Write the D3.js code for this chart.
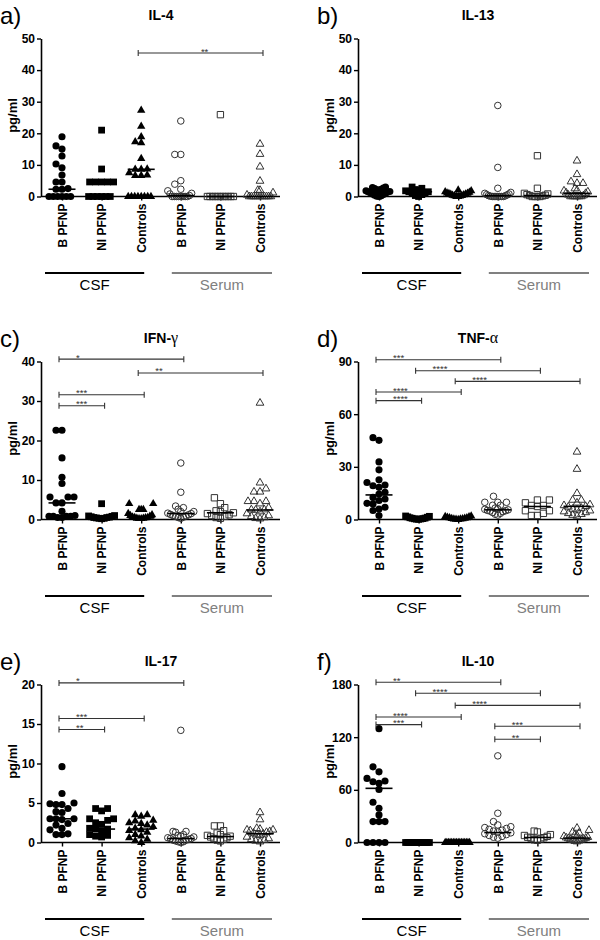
<!DOCTYPE html>
<html><head><meta charset="utf-8">
<script src="https://cdn.jsdelivr.net/npm/d3@7"></script>
<style>body{margin:0;background:#fff}svg{display:block}</style>
</head><body>
<svg id="chart" width="600" height="940"></svg>
<script>
// ---------- DATA ----------
const categories = ["B PFNP", "NI PFNP", "Controls", "B PFNP", "NI PFNP", "Controls"];
const groupNames = ["CSF", "Serum"];

const il4 = [
  [18.9, 16.0, 15.0, 12.8, 10.3, 9.1, 6.8, 4.6, 4.6, 2.5, 2.3, 2.3, 0, 0, 0, 0, 0, 0],
  [21.0, 8.7, 4.6, 4.6, 4.6, 4.6, 4.6, 0, 0, 0, 0, 0, 0],
  [27.3, 22.2, 18.9, 17.3, 17.0, 12.0, 8.7, 8.6, 8.6, 7.5, 6.8, 6.6, 6.6, 0, 0, 0, 0, 0, 0, 0, 0],
  [23.9, 13.3, 13.3, 5.0, 3.9, 2.3, 1.8, 1.0, 0.8, 0.3, 0, 0, 0, 0, 0, 0, 0, 0],
  [25.9, 0, 0, 0, 0, 0, 0, 0, 0, 0, 0, 0],
  [16.6, 13.4, 9.4, 4.9, 2.0, 2.0, 1.2, 0.5, 0, 0, 0, 0, 0, 0, 0, 0, 0, 0, 0]
];
const il4Median = [2.3, 4.6, 8.6, 0.3, 0, 0];
const il4Ticks = [0, 10, 20, 30, 40, 50];
const il4Sig = [[2, 5, 45.4, "**"]];

const il13 = [
  [3.0, 2.8, 2.7, 2.5, 2.3, 2.1, 2.0, 1.8, 1.6, 1.5, 1.4, 1.2, 1.0, 0.8, 0.6, 0.4, 0.2, 0.1, 0],
  [3.0, 2.6, 2.2, 2.0, 1.8, 1.5, 1.5, 1.2, 1.0, 0.6, 0.3, 0],
  [2.0, 1.8, 1.5, 1.3, 1.1, 1.0, 0.9, 0.8, 0.7, 0.5, 0.4, 0.3, 0.2, 0.1, 0, 0],
  [28.8, 9.2, 2.6, 1.3, 1.0, 0.8, 0.6, 0.5, 0.3, 0.2, 0.1, 0, 0, 0, 0, 0, 0, 0],
  [12.9, 2.6, 1.0, 0.8, 0.6, 0.4, 0.3, 0.2, 0, 0, 0, 0],
  [11.3, 7.0, 4.7, 4.2, 4.2, 2.5, 2.0, 1.8, 1.5, 1.2, 1.0, 0.5, 0.3, 0, 0, 0, 0, 0, 0]
];
const il13Median = [1.5, 1.5, 0.8, 0.3, 0.3, 1.0];
const il13Ticks = [0, 10, 20, 30, 40, 50];
const il13Sig = [];

const ifng = [
  [22.6, 22.6, 15.6, 10.7, 9.1, 5.7, 5.7, 5.7, 4.2, 4.2, 2.1, 1.0, 0.8, 0.8, 0.8, 0.8, 0.5, 0.5],
  [4.0, 1.0, 0.9, 0.8, 0.7, 0.6, 0.5, 0.5, 0.4, 0.3, 0.3, 0.2],
  [4.0, 4.0, 2.5, 2.5, 2.5, 1.5, 1.2, 1.0, 0.8, 0.6, 0.5, 0.5, 0.4, 0.3, 0.3, 0.2, 0.2],
  [14.3, 6.9, 3.4, 3.0, 2.6, 2.0, 2.0, 1.6, 1.5, 1.3, 1.2, 1.0, 0.9, 0.8, 0.6, 0.5, 0.3],
  [5.5, 4.0, 3.0, 2.2, 2.0, 1.7, 1.5, 1.2, 1.0, 0.8, 0.5, 0.3],
  [29.5, 9.3, 7.8, 7.0, 7.0, 4.6, 4.6, 4.6, 4.0, 3.0, 2.5, 2.5, 2.4, 2.0, 1.5, 1.0, 0.8, 0.5, 0.3, 0.2]
];
const ifngMedian = [4.2, 0.5, 0.5, 1.5, 1.7, 2.4];
const ifngTicks = [0, 10, 20, 30, 40];
const ifngSig = [[0, 3, 40.6, "*"], [2, 5, 37.1, "**"], [0, 2, 31.6, "***"], [0, 1, 28.8, "***"]];

const tnfa = [
  [46.6, 45.1, 32.8, 28.3, 22.6, 21.1, 19.6, 19.2, 18.3, 15.5, 14.5, 12.6, 11.7, 10.8, 9.2, 8.9, 7.0, 6.0, 5.1, 2.3],
  [2.0, 1.8, 1.5, 1.3, 1.0, 0.8, 0.7, 0.5, 0.4, 0.3, 0.2, 0.1],
  [2.0, 1.7, 1.5, 1.2, 1.0, 0.9, 0.7, 0.5, 0.4, 0.3, 0.2, 0.1, 0],
  [13.2, 9.8, 9.8, 9.8, 8.1, 8.1, 6.5, 6.0, 5.8, 5.5, 5.2, 5.0, 4.8, 4.5, 4.0, 3.5, 3.0, 2.5],
  [11.1, 11.1, 9.5, 8.0, 8.0, 7.4, 5.0, 5.0, 3.5, 2.3, 2.3],
  [38.5, 28.7, 14.9, 11.1, 11.1, 9.5, 8.5, 8.0, 7.5, 7.2, 6.5, 6.0, 5.5, 5.0, 4.5, 4.0, 3.5, 3.0, 2.5, 2.0]
];
const tnfaMedian = [14.0, 0.5, 0.5, 5.5, 7.4, 7.5];
const tnfaTicks = [0, 30, 60, 90];
const tnfaSig = [[0, 3, 91.0, "***"], [1, 4, 84.7, "****"], [2, 5, 78.7, "****"], [0, 2, 72.6, "****"], [0, 1, 67.7, "****"]];

const il17 = [
  [9.6, 6.2, 5.0, 4.9, 4.8, 4.8, 4.3, 3.9, 3.8, 3.0, 3.0, 3.0, 2.9, 2.4, 2.2, 1.8, 1.6, 1.1, 1.0, 1.0],
  [4.3, 4.3, 4.0, 3.0, 3.0, 2.8, 2.5, 2.3, 1.8, 1.7, 1.7, 1.5, 1.0, 0.9, 0.8, 0.7],
  [3.5, 3.5, 3.3, 2.8, 2.7, 2.5, 2.4, 2.2, 2.0, 1.8, 1.6, 1.5, 1.3, 1.0, 0.8, 0.6, 0.4, 0.2, 0.0],
  [14.2, 1.4, 1.4, 1.3, 1.0, 0.9, 0.8, 0.7, 0.6, 0.5, 0.5, 0.4, 0.3, 0.3, 0.2, 0.1, 0.1, 0],
  [2.1, 2.1, 1.5, 1.2, 1.0, 0.9, 0.8, 0.7, 0.6, 0.5, 0.4, 0.3, 0.2],
  [3.8, 2.9, 1.8, 1.7, 1.6, 1.6, 1.5, 1.4, 1.3, 1.2, 1.1, 1.0, 0.9, 0.7, 0.5, 0.4, 0.3, 0.2, 0.1]
];
const il17Median = [3.0, 1.7, 1.7, 0.5, 0.75, 1.1];
const il17Ticks = [0, 5, 10, 15, 20];
const il17Sig = [[0, 3, 20.2, "*"], [0, 2, 15.7, "***"], [0, 1, 14.3, "**"]];

const il10 = [
  [129.7, 86.2, 80.5, 73.0, 70.0, 69.2, 67.4, 60.5, 45.8, 39.0, 31.4, 23.8, 23.8, 23.8, 0, 0, 0, 0],
  [0, 0, 0, 0, 0, 0, 0, 0, 0, 0, 0, 0],
  [0, 0, 0, 0, 0, 0, 0, 0, 0, 0, 0, 0, 0, 0, 0, 0],
  [98.7, 33.3, 23.8, 20, 18, 17, 16, 15, 14, 13, 12, 11, 10, 9, 8, 7, 6, 5],
  [13, 12, 9, 8, 7, 6, 5.5, 5, 4, 3, 2.5],
  [16.5, 14, 12, 11, 9, 8, 7, 6, 5.5, 5, 4.5, 4, 3.5, 3, 2.5, 2, 1.5, 1]
];
const il10Median = [61.7, 0, 0, 11.3, 5.7, 5.0];
const il10Ticks = [0, 60, 120, 180];
const il10Sig = [[0, 3, 182.6, "**"], [1, 4, 170.1, "****"], [2, 5, 156.2, "****"], [0, 2, 142.9, "****"], [0, 1, 134.3, "***"], [3, 5, 132.4, "***"], [3, 4, 117.6, "**"]];

const panels = [
  {letter: "a)", title: ["IL-4"], data: il4, med: il4Median, ticks: il4Ticks, sig: il4Sig, centered: true},
  {letter: "b)", title: ["IL-13"], data: il13, med: il13Median, ticks: il13Ticks, sig: il13Sig},
  {letter: "c)", title: ["IFN-", "γ"], data: ifng, med: ifngMedian, ticks: ifngTicks, sig: ifngSig},
  {letter: "d)", title: ["TNF-", "α"], data: tnfa, med: tnfaMedian, ticks: tnfaTicks, sig: tnfaSig},
  {letter: "e)", title: ["IL-17"], data: il17, med: il17Median, ticks: il17Ticks, sig: il17Sig},
  {letter: "f)", title: ["IL-10"], data: il10, med: il10Median, ticks: il10Ticks, sig: il10Sig}
];

// ---------- LAYOUT ----------
const FONT = "Liberation Sans, Arial, sans-serif";
const PW = 317, PH = 323;
const Y0 = 196.5, Y1 = 38.5, AX = 41, XR = 280;
const STEP = 6, COL = 6, MAXH = 13;
const symTypes = [d3.symbolCircle, d3.symbolSquare, d3.symbolTriangle, d3.symbolCircle, d3.symbolSquare, d3.symbolTriangle];
const symSizesFilled = [40, 46, 30];
const symSizesOpen = [34, 40, 26];

const svg = d3.select("#chart");

function dodge(vals, y) {
  const pts = vals.map(v => ({v, py: y(v), off: 0})).sort((a, b) => a.v - b.v);
  const placed = [];
  for (const p of pts) {
    for (let k = 0; k < 200; k++) {
      const off = k === 0 ? 0 : (k % 2 ? -1 : 1) * Math.ceil(k / 2) * STEP;
      if (placed.every(q => (q.off - off) ** 2 + (q.py - p.py) ** 2 >= COL * COL - 0.01)) {
        p.off = off; placed.push(p); break;
      }
    }
  }
  for (const p of pts) {
    const rowMax = d3.max(pts.filter(q => Math.abs(q.py - p.py) < COL), q => Math.abs(q.off));
    p.x = rowMax > MAXH ? p.off * MAXH / rowMax : p.off;
  }
  return pts;
}

panels.forEach((p, i) => {
  const g = svg.append("g").attr("transform", `translate(${(i % 2) * PW},${Math.floor(i / 2) * PH})`);
  const y = d3.scaleLinear().domain([0, d3.max(p.ticks)]).range([Y0, Y1]);
  const x = d3.scalePoint().domain(d3.range(categories.length)).range([62, 260]);

  g.append("text").attr("x", 0).attr("y", 24).attr("font-family", FONT)
    .attr("font-size", 24).attr("fill", "#000").text(p.letter);
  const t = g.append("text").attr("x", 161).attr("y", 20).attr("text-anchor", "middle")
    .attr("font-family", FONT).attr("font-weight", "bold").attr("font-size", 14);
  t.append("tspan").text(p.title[0]);
  if (p.title[1]) t.append("tspan").attr("font-family", "Liberation Serif, serif")
    .attr("font-weight", "normal").attr("font-size", 16).text(p.title[1]);
  g.append("text").attr("transform", `translate(17,${(Y0 + Y1) / 2 - 2}) rotate(-90)`)
    .attr("text-anchor", "middle").attr("font-family", FONT).attr("font-weight", "bold")
    .attr("font-size", 13).text("pg/ml");

  const ya = g.append("g").attr("transform", `translate(${AX},0)`)
    .call(d3.axisLeft(y).tickValues(p.ticks).tickSize(4).tickSizeOuter(0).tickPadding(2));
  ya.select(".domain").attr("stroke", "#000").attr("stroke-width", 1.6);
  ya.selectAll(".tick line").attr("stroke", "#000").attr("stroke-width", 1.4);
  ya.selectAll(".tick text").attr("font-family", FONT).attr("font-weight", "bold")
    .attr("font-size", 12).attr("fill", "#000");

  g.append("line").attr("x1", AX).attr("x2", XR).attr("y1", y(0)).attr("y2", y(0))
    .attr("stroke", "#000").attr("stroke-width", 1.6);
  const xa = g.append("g").attr("transform", `translate(0,${y(0)})`)
    .call(d3.axisBottom(x).tickSize(4).tickSizeOuter(0).tickFormat(d => categories[d]));
  xa.select(".domain").remove();
  xa.selectAll(".tick line").attr("stroke", "#000").attr("stroke-width", 1.4);
  xa.selectAll(".tick text").attr("transform", "rotate(-90)").attr("x", -7).attr("y", 0)
    .attr("dy", "0.35em").attr("text-anchor", "end").attr("font-family", FONT)
    .attr("font-weight", "bold").attr("font-size", 12).attr("fill", "#000");

  p.data.forEach((vals, gi) => {
    const filled = gi < 3;
    const sym = d3.symbol().type(symTypes[gi]).size(filled ? symSizesFilled[gi % 3] : symSizesOpen[gi % 3]);
    const pts = dodge(vals, y);
    g.append("g").selectAll("path").data(pts).join("path")
      .attr("d", sym)
      .attr("transform", d => `translate(${x(gi) + d.x},${d.py})`)
      .attr("fill", filled ? "#000" : "none")
      .attr("stroke", filled ? "none" : "#333")
      .attr("stroke-width", 1);
    g.append("line").attr("x1", x(gi) - 13.5).attr("x2", x(gi) + 13.5)
      .attr("y1", y(p.med[gi])).attr("y2", y(p.med[gi]))
      .attr("stroke", "#000").attr("stroke-width", 1.6);
  });

  p.sig.forEach(([a, b, v, lab]) => {
    const x1 = x(a) - 3, x2 = x(b) + 3, yy = y(v);
    const bg = g.append("g").attr("stroke", "#333").attr("stroke-width", 1.1);
    bg.append("line").attr("x1", x1).attr("x2", x2).attr("y1", yy).attr("y2", yy);
    bg.append("line").attr("x1", x1).attr("x2", x1).attr("y1", yy - 3).attr("y2", yy + 3);
    bg.append("line").attr("x1", x2).attr("x2", x2).attr("y1", yy - 3).attr("y2", yy + 3);
    g.append("text").attr("x", p.centered ? (x1 + x2) / 2 + 4 : x1 + 17)
      .attr("y", yy + 1.5).attr("text-anchor", p.centered ? "middle" : "start")
      .attr("font-family", FONT).attr("font-size", 9.5).attr("fill", "#333").text(lab);
  });

  const grp = [
    {name: groupNames[0], x1: x(0) - 17, x2: x(2) + 3, color: "#000"},
    {name: groupNames[1], x1: x(3) - 9, x2: x(5) + 12, color: "#808080"}
  ];
  grp.forEach(d => {
    g.append("line").attr("x1", d.x1).attr("x2", d.x2).attr("y1", 273).attr("y2", 273)
      .attr("stroke", d.color).attr("stroke-width", 2.2);
    g.append("text").attr("x", (d.x1 + d.x2) / 2).attr("y", 290).attr("text-anchor", "middle")
      .attr("font-family", FONT).attr("font-size", 15).attr("fill", d.color).text(d.name);
  });
});
</script>
</body></html>
